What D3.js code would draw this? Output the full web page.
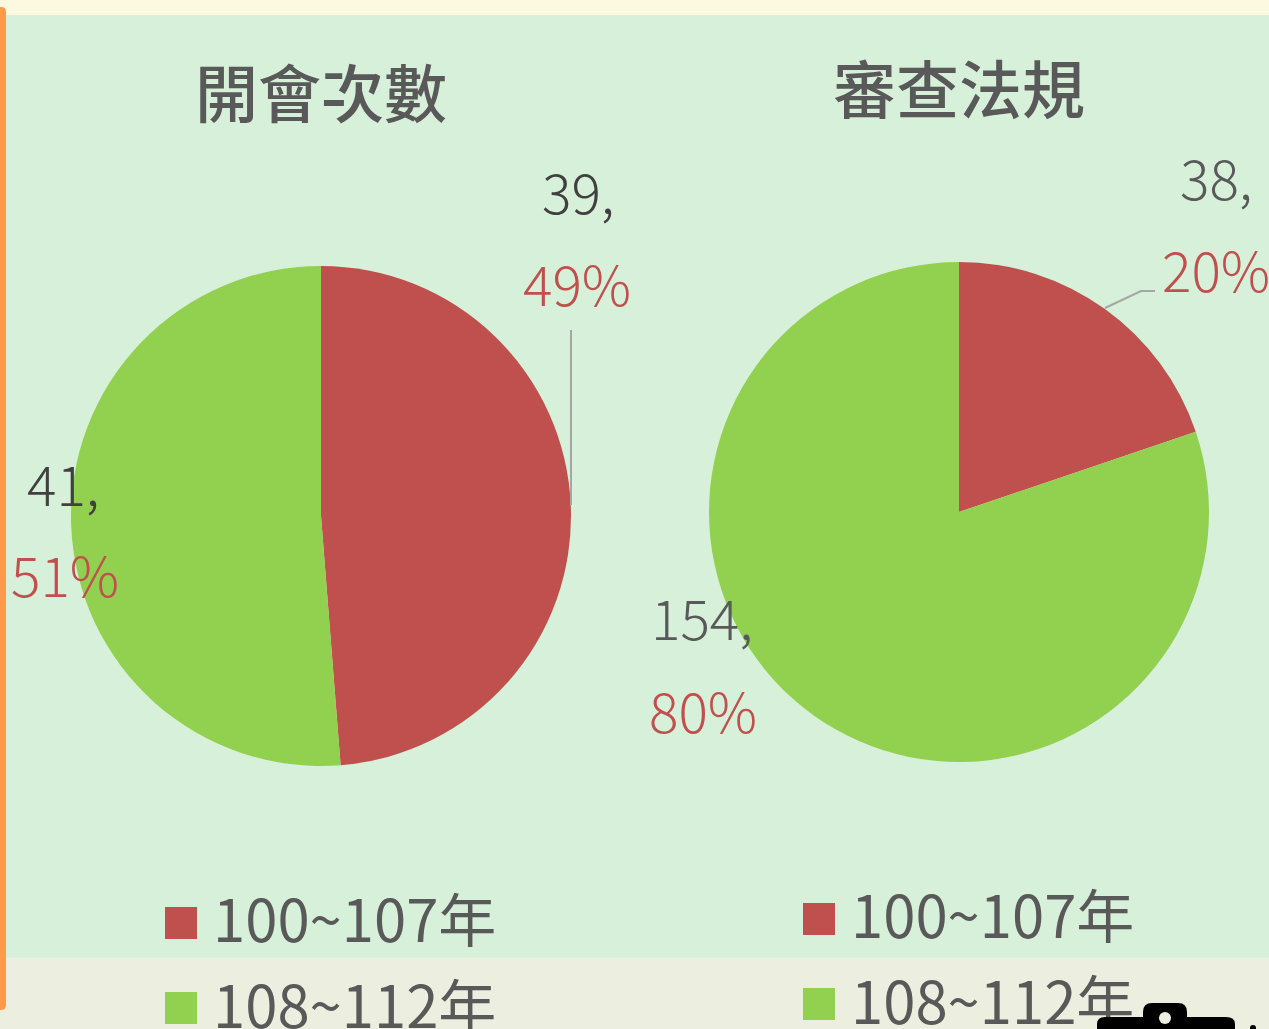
<!DOCTYPE html>
<html>
<head>
<meta charset="utf-8">
<script src="https://d3js.org/d3.v7.min.js"></script>
<style>
html, body { margin: 0; padding: 0; background: #fbf9e0; overflow: hidden; }
svg { display: block; }
text { font-family: "Noto Sans CJK TC", "Noto Sans", sans-serif; }
</style>
</head>
<body>
<svg id="chart" width="1269" height="1029"></svg>
<script>
// Data
var periods = ["100~107年", "108~112年"];
var colors = ["#c0504d", "#92d050"];
var meetingTitle = "開會次數";
var meetingValues = [39, 41];
var meetingPercents = ["49%", "51%"];
var reviewTitle = "審查法規";
var reviewValues = [38, 154];
var reviewPercents = ["20%", "80%"];

var svg = d3.select("#chart");

// Background bands
svg.append("rect").attr("width", 1269).attr("height", 1029).attr("fill", "#fbf9e0");
svg.append("rect").attr("y", 15).attr("width", 1269).attr("height", 943).attr("fill", "#d7f0da");
svg.append("rect").attr("y", 958).attr("width", 1269).attr("height", 71).attr("fill", "#ecefdf");
svg.append("path")
    .attr("d", "M0,7 H1 Q6,7 6,12 V1005 Q6,1010 1,1010 H0 Z")
    .attr("fill", "#fd9b4a");

var pie = d3.pie().sort(null);
var arc = d3.arc().innerRadius(0).outerRadius(250);

// Draw one pie with title, leader line, labels and legend
function drawPie(cfg) {
    var g = svg.append("g");

    g.selectAll("path.slice")
        .data(pie(cfg.values))
        .enter().append("path")
        .attr("class", "slice")
        .attr("transform", "translate(" + cfg.cx + "," + cfg.cy + ")")
        .attr("d", arc)
        .attr("fill", function(d, i) { return colors[i]; });

    g.append("path")
        .attr("d", d3.line()(cfg.leader))
        .attr("fill", "none")
        .attr("stroke", "#a6a6a6")
        .attr("stroke-width", 2);

    g.append("text")
        .attr("x", cfg.cx)
        .attr("y", cfg.titleY)
        .attr("text-anchor", "middle")
        .attr("fill", "#595959")
        .style("font-size", "63px")
        .style("font-weight", 500)
        .text(cfg.title);

    cfg.values.forEach(function(v, i) {
        var pos = cfg.labels[i];
        g.append("text")
            .attr("x", pos[0])
            .attr("y", pos[1])
            .attr("fill", cfg.valueColor)
            .style("font-size", "55px")
            .style("font-weight", 300)
            .text(v + ",");
        g.append("text")
            .attr("x", pos[2])
            .attr("y", pos[3])
            .attr("fill", colors[0])
            .style("font-size", "55px")
            .style("font-weight", 300)
            .text(cfg.percents[i]);
    });

    periods.forEach(function(p, i) {
        var y = cfg.legendY + i * 86;
        g.append("rect")
            .attr("x", cfg.legendX)
            .attr("y", cfg.legendY - 34 + i * 85)
            .attr("width", 32)
            .attr("height", 32)
            .attr("fill", colors[i]);
        g.append("text")
            .attr("x", cfg.legendX + 48)
            .attr("y", y + 1)
            .attr("fill", "#595959")
            .style("font-size", "58px")
            .text(p);
    });
}

drawPie({
    title: meetingTitle, values: meetingValues, percents: meetingPercents,
    cx: 321, cy: 516, titleY: 117, valueColor: "#404040",
    leader: [[571, 330], [571, 505]],
    labels: [[542, 214, 523, 306], [27, 506, 11, 597]],
    legendX: 165, legendY: 941
});

drawPie({
    title: reviewTitle, values: reviewValues, percents: reviewPercents,
    cx: 959, cy: 512, titleY: 113, valueColor: "#595959",
    leader: [[1105, 308], [1141, 291], [1155, 291]],
    labels: [[1180, 200, 1162, 292], [651, 640, 649, 733]],
    legendX: 803, legendY: 937
});

// Black icon cut off at the bottom right corner
svg.append("path")
    .attr("d", "M1097,1029 V1024 Q1097,1017 1105,1017 H1143 V1012 Q1143,1003 1152,1003 H1178 Q1187,1003 1187,1012 V1017 H1226 Q1235,1017 1235,1024 V1029 Z")
    .attr("fill", "#000");
svg.append("circle").attr("cx", 1165).attr("cy", 1018).attr("r", 6).attr("fill", "#ecefdf");
svg.append("circle").attr("cx", 1253).attr("cy", 1028).attr("r", 3).attr("fill", "#000");
</script>
</body>
</html>
